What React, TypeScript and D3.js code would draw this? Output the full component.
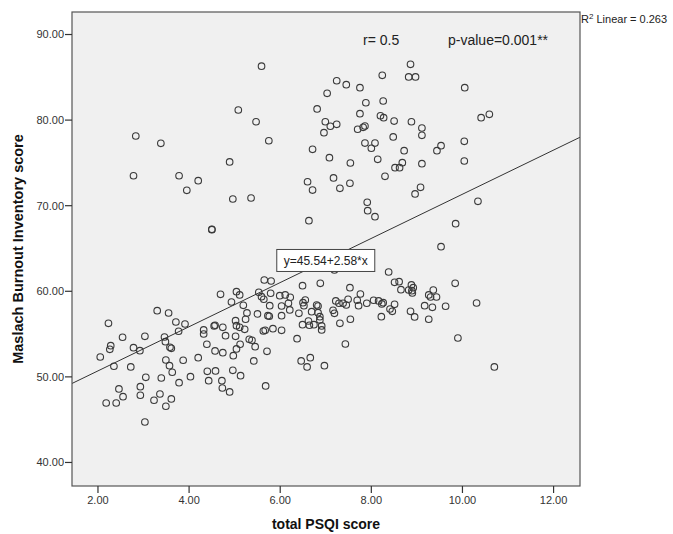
import React from "react";
import * as d3 from "d3";

// Data (total PSQI score, Maslach Burnout Inventory score)
const psqi: number[] = [
  // upper group
  2.83, 3.38, 2.78, 3.78, 4.2, 3.95, 5.08, 5.47, 5.75, 4.89, 4.96, 5.36, 4.5, 4.5, 6.81, 6.71, 6.6, 6.71, 6.63, 5.59,
  8.86, 8.24, 8.82, 8.97, 7.24, 7.45, 7.75, 10.05, 7.03, 7.88, 8.26, 7.75, 8.2, 8.27, 8.5, 8.88, 6.99, 7.1, 7.24, 6.96,
  7.7, 7.86, 7.82, 9.11, 9.11, 10.41, 10.59, 8.48, 10.04, 7.86, 8.08, 8.0, 8.72, 9.53, 9.44, 7.08, 7.54, 8.14, 10.04, 8.68,
  9.11, 8.52, 8.62, 8.3, 7.17, 7.31, 7.53, 9.08, 8.96, 10.34, 7.91, 7.92, 8.08, 9.85, 9.53,
  // lower group
  4.69, 5.04, 5.11, 5.53, 5.65, 5.8, 5.79, 5.99, 6.11, 6.22, 6.49, 6.55, 6.88,
  2.23, 2.05, 2.28, 2.26, 2.54, 2.35, 2.78, 2.92, 3.03, 2.72, 3.3, 3.55, 3.71, 3.91, 3.77, 3.46, 3.48, 3.58, 3.61, 3.49,
  3.57, 3.63, 3.87, 3.05, 3.39, 2.93, 2.46, 2.55, 2.18, 2.4, 2.93, 3.23, 3.36, 3.61, 3.49, 3.03, 3.78, 4.03, 4.2, 4.32,
  4.32, 4.39, 4.57, 4.55, 4.57, 4.74, 4.8, 4.74, 4.4, 4.43, 4.58, 4.72, 4.73, 4.89, 4.96, 5.13, 4.93, 5.19, 5.27, 5.24,
  5.02, 5.04, 5.11, 5.22, 5.02, 5.12, 5.04, 4.97, 5.32, 5.38, 5.45, 5.42, 5.5, 5.59, 5.64, 5.77, 5.73, 5.76, 5.63, 5.67,
  5.84, 5.71, 5.68, 6.03, 6.03, 6.03, 6.18, 6.21, 6.37, 6.41, 6.49, 6.5, 6.52, 6.62, 6.64, 6.74, 6.69, 6.8, 6.83, 6.46,
  6.66, 6.59,
  8.38, 7.19, 7.53, 7.76, 8.51, 8.61, 8.65, 8.88, 8.92, 8.89, 8.9, 8.82, 9.36, 9.26, 9.3, 9.43, 9.84, 10.31, 9.63, 9.34,
  9.17, 9.26, 8.95, 8.86, 8.51, 8.41, 8.46, 8.22, 8.26, 8.16, 8.23, 8.05, 7.9, 7.72, 7.69, 7.49, 7.45, 7.38, 7.29, 7.22,
  7.16, 7.19, 7.31, 7.54, 7.43, 9.9, 10.7, 6.97, 6.83, 6.87, 6.87, 6.91, 6.91,
];
const mbi: number[] = [
  // upper group
  78.14, 77.29, 73.5, 73.5, 72.92, 71.8, 81.18, 79.81, 77.59, 75.11, 70.78, 70.9, 67.24, 67.2, 81.3, 76.59, 72.8, 71.83, 68.25, 86.3,
  86.52, 85.23, 85.04, 85.04, 84.6, 84.14, 83.79, 83.79, 83.13, 82.03, 82.23, 80.75, 80.51, 80.28, 79.89, 79.81, 79.81, 79.28, 79.51, 78.53,
  78.93, 79.31, 79.16, 79.08, 78.22, 80.28, 80.68, 78.03, 77.52, 77.32, 77.32, 76.71, 76.43, 77.01, 76.43, 75.61, 74.99, 75.42, 75.22, 75.02,
  74.91, 74.44, 74.44, 73.43, 73.24, 72.03, 72.62, 72.15, 71.37, 70.51, 70.4, 69.42, 68.72, 67.9, 65.21,
  // lower group
  59.65, 59.95, 59.57, 59.88, 61.32, 61.2, 59.77, 59.49, 59.57, 59.3, 60.65, 58.98, 60.93,
  56.26, 52.32, 53.64, 53.22, 54.63, 51.24, 53.41, 53.06, 54.74, 51.16, 57.73, 57.46, 56.41, 56.18, 55.33, 54.66, 54.11, 53.46, 53.34, 51.97,
  51.31, 50.54, 51.94, 49.95, 49.87, 48.86, 48.59, 47.69, 46.95, 46.95, 47.85, 47.27, 48.0, 47.42, 46.57, 44.73, 49.32, 50.02, 52.24, 55.48,
  55.01, 53.81, 53.03, 55.95, 56.03, 55.79, 54.81, 52.83, 50.65, 49.56, 50.69, 49.56, 48.7, 48.24, 50.77, 50.14, 58.75, 58.36, 57.47, 56.73,
  56.57, 55.98, 55.79, 55.56, 54.74, 53.81, 53.26, 52.48, 54.39, 54.28, 53.53, 51.86, 57.35, 59.37, 59.07, 58.32, 57.15, 57.08, 55.36, 55.44,
  55.63, 52.99, 48.94, 58.28, 57.15, 55.44, 58.6, 57.82, 54.46, 57.43, 56.1, 58.67, 58.32, 56.53, 56.03, 56.1, 57.62, 58.4, 57.5, 51.86,
  52.24, 51.16,
  62.25, 62.49, 60.42, 59.68, 61.05, 61.12, 60.19, 60.74, 60.42, 60.07, 59.8, 60.15, 60.15, 59.57, 59.33, 59.33, 60.93, 58.63, 58.25, 58.13,
  58.32, 56.73, 57.0, 57.66, 58.48, 57.93, 57.66, 57.03, 58.67, 58.87, 58.52, 58.95, 58.6, 58.32, 58.95, 59.07, 58.4, 58.6, 58.6, 58.87,
  57.78, 57.43, 56.26, 56.73, 53.84, 54.54, 51.16, 51.31, 58.28, 57.03, 56.65, 55.95, 55.48,
];

const xTicks = [2, 4, 6, 8, 10, 12];
const yTicks = [40, 50, 60, 70, 80, 90];
const fitIntercept = 45.54;
const fitSlope = 2.58;
const fitLabel = "y=45.54+2.58*x";
const fitLabelAt = 7.0;
const rLabel = "r= 0.5";
const pLabel = "p-value=0.001**";
const r2Label = "0.263";
const xTitle = "total PSQI score";
const yTitle = "Maslach Burnout Inventory score";

const W = 673;
const H = 534;
const left = 72, right = 580, top = 12, bottom = 486;
const FONT = "'Liberation Sans', Arial, sans-serif";

export default function App() {
  const x = d3.scaleLinear().domain([1.43, 12.58]).range([left, right]);
  const y = d3.scaleLinear().domain([37.25, 92.63]).range([bottom, top]);
  const [x0, x1] = x.domain();
  const line = d3.line<number>().x((d) => x(d)).y((d) => y(fitIntercept + fitSlope * d));
  const fitPath = line([x0, x1]) || "";
  const points = psqi.map((v, i) => [v, mbi[i]] as [number, number]);
  const lx = x(fitLabelAt);
  const ly = y(fitIntercept + fitSlope * fitLabelAt);
  const boxW = 98, boxH = 22;

  return (
    <svg width={W} height={H} style={{ position: "absolute", left: 0, top: 0, background: "#fff" }} fontFamily={FONT}>
      <rect x={left} y={top} width={right - left} height={bottom - top} fill="#f0f0f0" />
      <defs>
        <clipPath id="plotclip">
          <rect x={left} y={top} width={right - left} height={bottom - top} />
        </clipPath>
      </defs>
      <g clipPath="url(#plotclip)">
        {points.map(([px, py], i) => (
          <circle key={i} cx={x(px)} cy={y(py)} r={3.3} fill="none" stroke="#3a3a3a" strokeWidth={1.1} />
        ))}
        <path d={fitPath} stroke="#333" strokeWidth={1} fill="none" />
      </g>
      <rect x={left} y={top} width={right - left} height={bottom - top} fill="none" stroke="#555" strokeWidth={1.2} />
      {/* y axis */}
      {yTicks.map((t) => (
        <g key={"y" + t}>
          <line x1={left - 7} x2={left} y1={y(t)} y2={y(t)} stroke="#333" strokeWidth={1.2} />
          <text x={left - 8} y={y(t)} dy="0.35em" textAnchor="end" fontSize={11} fill="#333">
            {t.toFixed(2)}
          </text>
        </g>
      ))}
      {/* x axis */}
      {xTicks.map((t) => (
        <g key={"x" + t}>
          <line x1={x(t)} x2={x(t)} y1={bottom} y2={bottom + 7} stroke="#333" strokeWidth={1.2} />
          <text x={x(t)} y={bottom + 18} textAnchor="middle" fontSize={11} fill="#333">
            {t.toFixed(2)}
          </text>
        </g>
      ))}
      <text x={(left + right) / 2} y={529} textAnchor="middle" fontSize={14} fontWeight="bold" fill="#111">
        {xTitle}
      </text>
      <text
        transform={`translate(23, ${(top + bottom) / 2}) rotate(-90)`}
        textAnchor="middle"
        fontSize={14.5}
        fontWeight="bold"
        fill="#111"
      >
        {yTitle}
      </text>
      {/* annotations */}
      <text x={363} y={45} fontSize={14} fill="#222">{rLabel}</text>
      <text x={448} y={45} fontSize={14} fill="#222">{pLabel}</text>
      <text x={581} y={23} fontSize={11} fill="#222">
        R<tspan fontSize={8} dy={-4}>2</tspan>
        <tspan dy={4}> Linear = {r2Label}</tspan>
      </text>
      <rect x={lx - boxW / 2} y={ly - boxH / 2} width={boxW} height={boxH} fill="#fff" stroke="#444" strokeWidth={1} />
      <text x={lx} y={ly} dy="0.35em" textAnchor="middle" fontSize={12} fill="#222">
        {fitLabel}
      </text>
    </svg>
  );
}
